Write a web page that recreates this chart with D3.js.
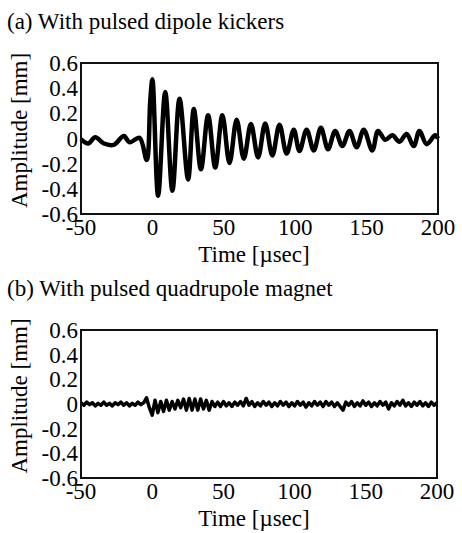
<!DOCTYPE html>
<meta charset="utf-8">
<style>
  svg, svg text { font-family: "Times New Roman"; }
</style>
<body style="margin:0">
<script src="https://d3js.org/d3.v7.min.js"></script>
<script>

// shared axes
const xTicks = [-50, 0, 50, 100, 150, 200];
const yTicks = [-0.6, -0.4, -0.2, 0, 0.2, 0.4, 0.6];

// (a) dipole kickers: extremes
const timeA = [-50, -45, -40, -34, -27, -20, -16, -9, -4, -1.5, 0, 4, 9, 14, 19, 25, 29, 34, 39, 44, 49, 54, 59, 64, 69, 74,
  79, 84, 89, 94, 99, 103, 108, 113, 118, 123, 128, 133, 138, 143, 148, 154, 158, 163, 168, 173, 178, 183, 187, 192, 198, 200];
const ampA = [-0.005, -0.04, 0.01, -0.04, -0.05, 0.02, -0.03, 0.005, -0.17, 0.3, 0.47, -0.455, 0.37, -0.415, 0.315, -0.325, 0.235, -0.245, 0.185,
  -0.23, 0.185, -0.195, 0.15, -0.16, 0.115, -0.15, 0.12, -0.135, 0.11, -0.12, 0.07, -0.1, 0.07, -0.095, 0.085, -0.085, 0.06, -0.06, 0.06,
  -0.07, 0.07, -0.095, 0.06, -0.01, 0.025, -0.025, 0.035, -0.06, 0.06, -0.045, 0.025, 0];

// (b) quadrupole magnet, sampled every 2 usec
const timeB = [-50, -48, -46, -44, -42, -40, -38, -36, -34, -32, -30, -28, -26, -24, -22, -20, -18, -16, -14, -12, -10, -8, -6,
  -4, -2, 0, 2, 4, 6, 8, 10, 12, 14, 16, 18, 20, 22, 24, 26, 28, 30, 32, 34, 36, 38, 40, 42, 44, 46, 48,
  50, 52, 54, 56, 58, 60, 62, 64, 66, 68, 70, 72, 74, 76, 78, 80, 82, 84, 86, 88, 90, 92, 94, 96, 98,
  100, 102, 104, 106, 108, 110, 112, 114, 116, 118, 120, 122, 124, 126, 128, 130, 132, 134, 136, 138, 140, 142, 144, 146, 148,
  150, 152, 154, 156, 158, 160, 162, 164, 166, 168, 170, 172, 174, 176, 178, 180, 182, 184, 186, 188, 190, 192, 194, 196, 198, 200];
const ampB = [0.01, -0.01, 0.015, -0.005, 0.01, -0.015, 0.005, -0.01, 0.015, -0.01, 0.005, -0.015, 0.01, -0.005, 0.015, -0.01, 0.01, -0.015, 0.005, -0.01, 0.015, -0.005, 0.01,
  0.05, -0.03, -0.09, 0.03, -0.07, 0.02, -0.06, 0.03, -0.05, 0.02, -0.04, 0.03, -0.03, 0.04, -0.05, 0.045, -0.05, 0.04, -0.05, 0.04, -0.04, 0.03, -0.05, 0.02, -0.02, 0.015, -0.02,
  0.02, -0.015, 0.01, -0.02, 0.015, -0.01, 0.02, -0.015, 0.045, -0.01, 0.02, -0.02, 0.01, -0.015, 0.02, -0.01, 0.015, -0.02, 0.01, -0.015, 0.02, -0.01, 0.015, -0.02, 0.01,
  -0.015, 0.02, -0.01, 0.015, -0.025, 0.01, -0.015, 0.02, -0.01, 0.015, -0.02, 0.02, -0.01, 0.015, -0.02, 0.01, -0.02, -0.05, 0.015, -0.01, 0.02, -0.02, 0.01, -0.015, 0.025,
  -0.01, 0.015, -0.02, 0.01, -0.015, 0.02, -0.01, 0.015, -0.04, 0.01, -0.015, 0.02, -0.01, 0.03, -0.015, 0.01, -0.02, 0.015, -0.01, 0.02, -0.015, 0.01, -0.02, 0.015, -0.01, 0.01];

const width = 462, height = 533;

const svg = d3.select("body").append("svg")
    .attr("width", width)
    .attr("height", height)
    .attr("font-family", "Times New Roman");

const yLabel = d => d === 0 ? "0" : d.toFixed(1);

const drawPanel = function(cfg) {
  const x = d3.scaleLinear().domain([-50, 200]).range([cfg.left, cfg.right]);
  const y = d3.scaleLinear().domain([-0.6, 0.6]).range([cfg.bottom, cfg.top]);

  const line = d3.line()
    .x(d => x(d[0]))
    .y(d => y(d[1]))
    .curve(cfg.curve);

  svg.append("path")
    .datum(d3.zip(cfg.times, cfg.amps))
    .attr("d", line)
    .attr("fill", "none")
    .attr("stroke", "#000")
    .attr("stroke-width", cfg.lw)
    .attr("stroke-linejoin", "round");

  svg.append("rect")
    .attr("x", cfg.left).attr("y", cfg.top)
    .attr("width", cfg.right - cfg.left).attr("height", cfg.bottom - cfg.top)
    .attr("fill", "none").attr("stroke", "#111").attr("stroke-width", 2);

  // every text of the panel: title, tick labels, axis titles
  const texts = [{ s: cfg.title, x: 7, y: cfg.titleY, a: "start" }]
    .concat(yTicks.map(v => ({ s: yLabel(v), x: cfg.left - 3, y: y(v) + 8, a: "end" })))
    .concat(xTicks.map(v => ({ s: String(v), x: x(v), y: cfg.bottom + 21, a: "middle" })))
    .concat([{ s: "Time [µsec]", x: 254, y: cfg.bottom + 48, a: "middle" },
             { s: "Amplitude [mm]", x: 27, y: (cfg.top + cfg.bottom) / 2 - 8, a: "middle", r: true }]);

  svg.selectAll(null).data(texts).join("text")
    .attr("x", d => d.r ? 0 : d.x)
    .attr("y", d => d.r ? 0 : d.y)
    .attr("transform", d => d.r ? `translate(${d.x},${d.y}) rotate(-90)` : null)
    .attr("text-anchor", d => d.a)
    .attr("font-family", "Times New Roman")
    .style("font-family", "\"Times New Roman\"")
    .style("font-size", "23px")
    .text(d => d.s);
};

drawPanel({ title: "(a) With pulsed dipole kickers", titleY: 29, left: 81, right: 438, top: 63, bottom: 214,
  times: timeA, amps: ampA, lw: 4.5, curve: d3.curveCatmullRom });
drawPanel({ title: "(b) With pulsed quadrupole magnet", titleY: 296, left: 81, right: 437, top: 330, bottom: 478,
  times: timeB, amps: ampB, lw: 3.5, curve: d3.curveLinear });

</script>
